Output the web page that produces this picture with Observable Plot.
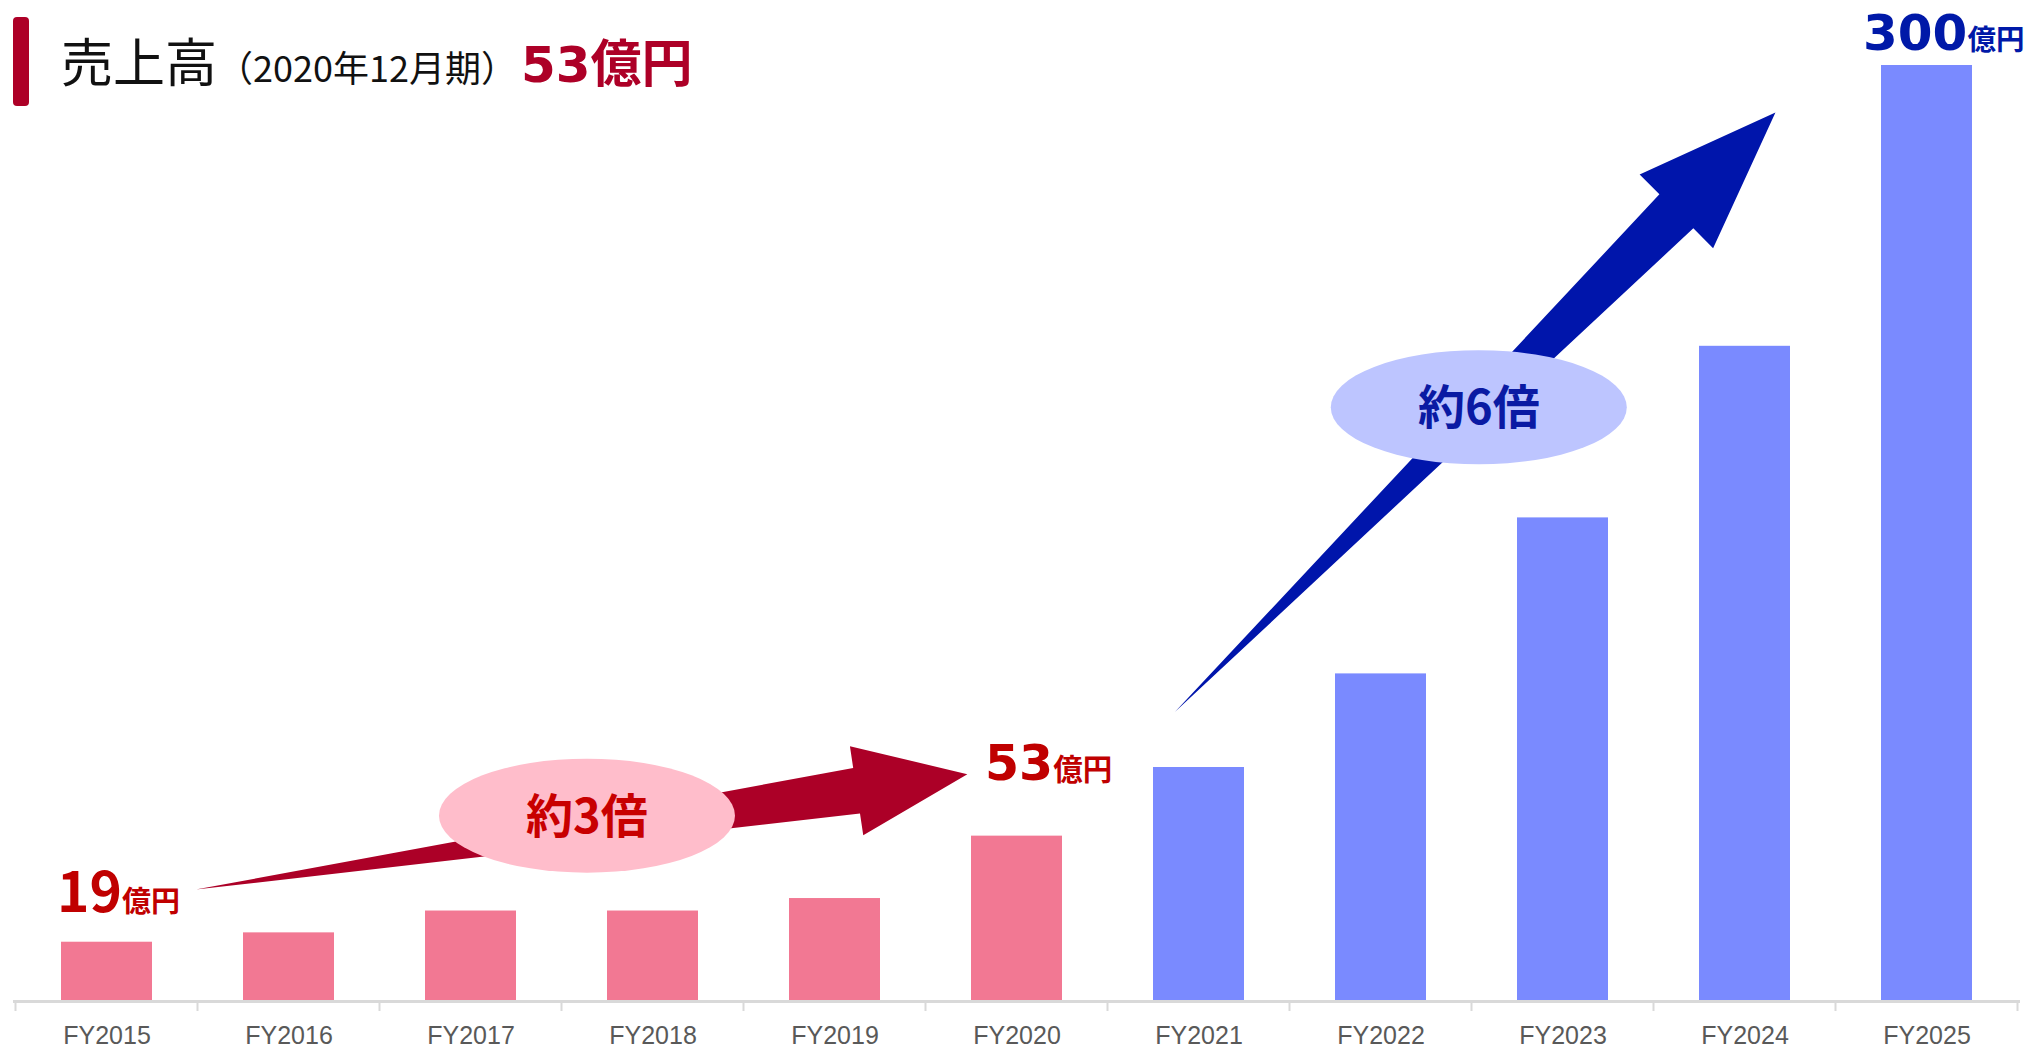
<!DOCTYPE html>
<html>
<head>
<meta charset="utf-8">
<script src="https://cdn.jsdelivr.net/npm/d3@7"></script>
<script src="https://cdn.jsdelivr.net/npm/@observablehq/plot@0.6"></script>
<style>
  html, body { margin: 0; padding: 0; background: #ffffff; }
  #wrap { position: relative; width: 2033px; height: 1049px; overflow: hidden; }
  #titlebar { position: absolute; left: 13px; top: 17px; width: 16px; height: 89px; background: #ad0027; border-radius: 4px; }
  #title { position: absolute; left: 61px; top: 34px; display: flex; align-items: baseline; white-space: nowrap; }
  #title span { line-height: 1; }
  .t-main { font-family: "Noto Sans CJK JP"; font-size: 52px; color: #111; }
  .t-sub { font-family: "Noto Sans CJK JP"; font-size: 36px; color: #111; }
  .t-num { font-family: "DejaVu Sans"; font-weight: 700; font-size: 50px; color: #ad0027; margin-left: 4px; }
  .t-unit { font-family: "Noto Sans CJK JP"; font-weight: 700; font-size: 51px; color: #ad0027; }
  #chart { position: absolute; left: 0; top: 0; }
</style>
</head>
<body>
<div id="wrap">
  <div id="chart"></div>
  <div id="titlebar"></div>
  <div id="title"><span class="t-main">売上高</span><span class="t-sub">（2020年12月期）</span><span class="t-num">53</span><span class="t-unit">億円</span></div>
</div>
<script>
// ---- data ----
const years = ["FY2015","FY2016","FY2017","FY2018","FY2019","FY2020","FY2021","FY2022","FY2023","FY2024","FY2025"];
const sales = [19, 22, 29, 29, 33, 53, 75, 105, 155, 210, 300];   // 億円
const periods = ["実績","実績","実績","実績","実績","実績","計画","計画","計画","計画","計画"];
const periodNames = ["実績", "計画"];
const periodColors = ["#f27893", "#7a8aff"];

// value callouts
const calloutYears = ["FY2015", "FY2020", "FY2025"];
const calloutNumbers = ["19", "53", "300"];
const calloutUnit = "億円";

// growth annotations (x in category-index units, y in 億円)
const growthLabels = ["約3倍", "約6倍"];
const arrowFromIdx = [0.49, 5.87];
const arrowFromVal = [35.7, 92.6];
const arrowToIdx = [4.73, 9.17];
const arrowToVal = [72.7, 284.8];
const bubbleIdx = [2.64, 7.54];
const bubbleVal = [59.4, 190.3];

const table = years.map((year, i) => ({year, sales: sales[i], period: periods[i]}));

// ---- styles for annotations ----
const arrowStyle = [
  {fill: "#ac0027", headLen: 112, headHalf: 45, shaftHalf: 23},
  {fill: "#0015ab", headLen: 140, headHalf: 52, shaftHalf: 24}
];
const bubbleStyle = [
  {fill: "#ffbdcb", text: "#c80000", rx: 148, ry: 57},
  {fill: "#bdc5ff", text: "#0a1aa3", rx: 148, ry: 57}
];
const calloutStyle = [
  {color: "#c00000", numFont: "Noto Sans CJK JP", numSize: 55, unitSize: 29, dx: -4, above: 30},
  {color: "#c00000", numFont: "DejaVu Sans", numSize: 49, unitSize: 29.5, dx: 14, above: 56},
  {color: "#0019a8", numFont: "DejaVu Sans", numSize: 50, unitSize: 28.5, dx: -18, above: 15}
];

function annotations(index, scales) {
  const {x, y} = scales;
  const step = x(years[1]) - x(years[0]);
  const bw = typeof x.bandwidth === "function" ? x.bandwidth()
           : (typeof x.bandwidth === "number" ? x.bandwidth : step * 0.5);
  const cx = i => x(years[0]) + bw / 2 + i * step;
  const g = d3.create("svg:g").attr("text-anchor", "start");
  const y0 = y(0);

  // boundary ticks on category axis
  for (let k = 0; k <= years.length; k++) {
    const xb = cx(k - 0.5);
    g.append("line").attr("x1", xb).attr("x2", xb).attr("y1", y0).attr("y2", y0 + 10)
      .attr("stroke", "#d9d9d9").attr("stroke-width", 2);
  }

  // growth arrows and bubbles
  growthLabels.forEach((label, a) => {
    const st = arrowStyle[a];
    const S = [cx(arrowFromIdx[a]), y(arrowFromVal[a])];
    const T = [cx(arrowToIdx[a]), y(arrowToVal[a])];
    const len = Math.hypot(T[0] - S[0], T[1] - S[1]);
    const u = [(T[0] - S[0]) / len, (T[1] - S[1]) / len];
    const n = [-u[1], u[0]];
    const B = [T[0] - u[0] * st.headLen, T[1] - u[1] * st.headLen];
    const pts = [
      S,
      [B[0] + n[0] * st.shaftHalf, B[1] + n[1] * st.shaftHalf],
      [B[0] + n[0] * st.headHalf, B[1] + n[1] * st.headHalf],
      T,
      [B[0] - n[0] * st.headHalf, B[1] - n[1] * st.headHalf],
      [B[0] - n[0] * st.shaftHalf, B[1] - n[1] * st.shaftHalf]
    ];
    g.append("polygon").attr("points", pts.map(p => p.join(",")).join(" ")).attr("fill", st.fill);

    const bs = bubbleStyle[a];
    const ex = cx(bubbleIdx[a]), ey = y(bubbleVal[a]);
    g.append("ellipse").attr("cx", ex).attr("cy", ey).attr("rx", bs.rx).attr("ry", bs.ry).attr("fill", bs.fill);
    g.append("text").attr("x", ex).attr("y", ey).attr("text-anchor", "middle").attr("dy", "0.36em")
      .attr("font-family", "Noto Sans CJK JP").attr("font-weight", 700).attr("font-size", 47)
      .attr("fill", bs.text).text(label);
  });

  // value callouts
  calloutYears.forEach((yr, k) => {
    const st = calloutStyle[k];
    const v = sales[years.indexOf(yr)];
    const t = g.append("text").attr("text-anchor", "start")
      .attr("x", x(yr) + st.dx).attr("y", y(v) - st.above).attr("fill", st.color);
    t.append("tspan").attr("font-family", st.numFont).attr("font-weight", 700)
      .attr("font-size", st.numSize).text(calloutNumbers[k]);
    t.append("tspan").attr("font-family", "Noto Sans CJK JP").attr("font-weight", 700)
      .attr("font-size", st.unitSize).text(calloutUnit);
  });
  return g.node();
}

const chart = Plot.plot({
  width: 2033,
  height: 1049,
  marginTop: 65,
  marginBottom: 48,
  marginLeft: 13,
  marginRight: 13,
  style: {background: "transparent", fontFamily: "Liberation Sans"},
  x: {domain: years, paddingInner: 0.5, paddingOuter: 0.25, label: null},
  y: {domain: [0, 300], axis: null},
  color: {domain: periodNames, range: periodColors},
  marks: [
    Plot.barY(table, {x: "year", y: "sales", fill: "period"}),
    Plot.ruleY([0], {stroke: "#d9d9d9", strokeWidth: 3}),
    Plot.axisX({tickSize: 0, tickPadding: 25, fontSize: 25, fill: "#595959", label: null, fontFamily: "Liberation Sans"}),
    annotations
  ]
});
document.getElementById("chart").appendChild(chart);
</script>
</body>
</html>
